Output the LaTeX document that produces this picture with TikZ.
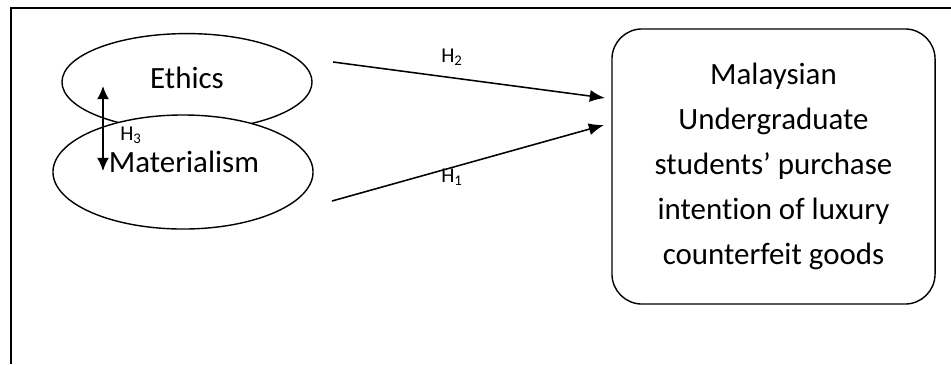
\documentclass[tikz,border=0pt]{standalone}
\usepackage{fontspec}
\setmainfont{Carlito}[Ligatures=NoCommon]
\usetikzlibrary{shapes.geometric,arrows.meta}
\begin{document}
\begin{tikzpicture}[x=0.025cm,y=-0.025cm,
    oval/.style={draw,line width=1pt,ellipse,inner sep=0pt},
    link/.style={line width=1.1pt,-{Latex[length=3.8mm,width=3mm]}},
    hlab/.style={font=\fontsize{15}{17}\selectfont},
    big/.style={font=\fontsize{22}{32}\selectfont}]
            \useasboundingbox (0,0) rectangle (951,364);
            % Rahmen
            \draw[line width=1.6pt] (951,8) -- (11,8) -- (11,364);
            % Ethics
            \node[oval,minimum width=6.25cm,minimum height=2.42cm] (ethics) at (187,82) {};
            \node[big] (ethicstxt) at (187,78) {Ethics};
            % Materialism
            \node[oval,fill=white,minimum width=6.5cm,minimum height=2.85cm] (mater) at (183,172) {};
            \node[big] (matertxt) at (184,162) {Materialism};
            % H_3
            \coordinate (h3top) at (103,86);
            \coordinate (h3bot) at (103,171);
            \draw[link,{Latex[length=3.3mm,width=3mm]}-{Latex[length=3.3mm,width=3mm]}] (h3top) -- (h3bot);
            \node[hlab] (h3) at (131,135) {H\textsubscript{3}};
            % Kaufabsicht
            \node[draw,line width=1pt,rounded corners=0.75cm,minimum width=8.075cm,minimum height=6.875cm,
                  align=center,big] (intent) at (773.5,166.5)
                {Malaysian\\Undergraduate\\students’ purchase\\intention of luxury\\counterfeit goods};
            % H_2
            \coordinate (h2s) at (333,62);
            \coordinate (h2e) at (605,98);
            \draw[link] (h2s) -- (h2e);
            \node[hlab] (h2) at (452,57) {H\textsubscript{2}};
            % H_1
            \coordinate (h1s) at (332,201);
            \coordinate (h1e) at (604,125);
            \draw[link] (h1s) -- (h1e);
            \node[hlab] (h1) at (452,177) {H\textsubscript{1}};
\end{tikzpicture}
\end{document}
